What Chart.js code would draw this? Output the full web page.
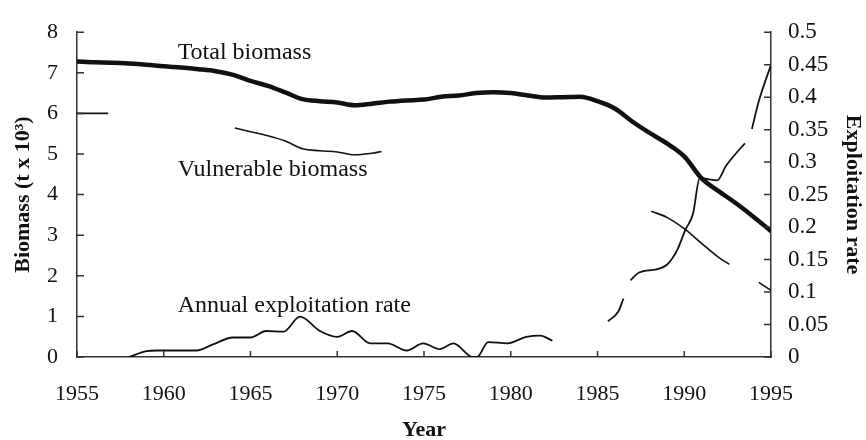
<!DOCTYPE html>
<html>
<head>
<meta charset="utf-8">
<style>
  html, body { margin: 0; padding: 0; background: #fff; }
  #wrap { width: 866px; height: 440px; }
</style>
<script src="https://cdn.jsdelivr.net/npm/chart.js@4.4.1/dist/chart.umd.min.js"></script>
</head>
<body>
<div id="wrap"><canvas id="biomassChart" width="866" height="440"></canvas></div>
<script>
// Total biomass (t x 10^3), one value per year
const years = [1955, 1956, 1957, 1958, 1959, 1960, 1961, 1962, 1963, 1964,
  1965, 1966, 1967, 1968, 1969, 1970, 1971, 1972, 1973, 1974,
  1975, 1976, 1977, 1978, 1979, 1980, 1981, 1982, 1983, 1984,
  1985, 1986, 1987, 1988, 1989, 1990, 1991, 1992, 1993, 1994, 1995];
const totalBiomass = [7.28, 7.26, 7.25, 7.23, 7.20, 7.16, 7.13, 7.09, 7.04, 6.95,
  6.80, 6.68, 6.52, 6.35, 6.30, 6.27, 6.20, 6.24, 6.29, 6.32,
  6.34, 6.41, 6.44, 6.50, 6.52, 6.50, 6.44, 6.39, 6.40, 6.41,
  6.30, 6.12, 5.80, 5.52, 5.26, 4.94, 4.40, 4.08, 3.78, 3.45, 3.10];

// Vulnerable biomass (t x 10^3), broken into pieces in the figure (null = gap)
const vulnYears = [1955, 1956, 1956.8, 1960,
  1964.1, 1965, 1966, 1967, 1968, 1969, 1970, 1971, 1972, 1972.55, 1980,
  1988.1, 1989, 1990, 1991, 1992, 1992.6, 1993.5,
  1994.3, 1995];
const vulnBiomass = [6.0, 6.0, 6.0, null,
  5.64, 5.55, 5.45, 5.32, 5.13, 5.08, 5.05, 4.98, 5.02, 5.06, null,
  3.59, 3.44, 3.16, 2.80, 2.45, 2.28, null,
  1.84, 1.64];

// Annual exploitation rate (right axis), also with gaps
const rateYears = [1958.0, 1959.0, 1959.6, 1960.2, 1961.9, 1962.8, 1964.0, 1965.0, 1965.9, 1966.9,
  1967.85, 1969.0, 1970.0, 1970.85, 1971.9, 1972.9, 1974.0, 1974.95, 1975.9, 1976.7,
  1977.8, 1978.05, 1978.7, 1979.8, 1980.9, 1981.7, 1982.4, 1984,
  1985.6, 1986.2, 1986.5, 1986.7,
  1986.9, 1987.4, 1988.4, 1989.0, 1989.6, 1990.05, 1990.5, 1990.9, 1991.3, 1991.9,
  1992.4, 1993.0, 1993.5, 1993.7,
  1993.9, 1994.3, 1995];
const exploitRate = [0, 0.009, 0.010, 0.010, 0.010, 0.019, 0.030, 0.030, 0.040, 0.039,
  0.062, 0.040, 0.031, 0.040, 0.021, 0.021, 0.010, 0.021, 0.012, 0.021,
  0.0, 0.0, 0.023, 0.021, 0.031, 0.033, 0.025, null,
  0.055, 0.070, 0.090, null,
  0.118, 0.130, 0.135, 0.142, 0.165, 0.195, 0.220, 0.276, 0.274, 0.272,
  0.294, 0.314, 0.329, null,
  0.351, 0.394, 0.45];

const labelText = ['Total biomass', 'Vulnerable biomass', 'Annual exploitation rate'];

const serif = '"Liberation Serif", "Times New Roman", serif';
const ink = '#111';

const toPoints = (xs, ys) => xs.map((x, i) => ({ x: x, y: ys[i] }));

// small tick marks pointing into the plot, like the original figure
const inwardTicks = {
  id: 'inwardTicks',
  afterDraw(chart) {
    const { ctx, scales } = chart;
    ctx.save();
    ctx.strokeStyle = '#333';
    ctx.lineWidth = 1.5;
    ctx.beginPath();
    scales.x.ticks.forEach(t => {
      const px = scales.x.getPixelForValue(t.value);
      ctx.moveTo(px, scales.x.top);
      ctx.lineTo(px, scales.x.top - 6);
    });
    scales.y.ticks.forEach(t => {
      const py = scales.y.getPixelForValue(t.value);
      ctx.moveTo(scales.y.right, py);
      ctx.lineTo(scales.y.right + 7, py);
    });
    scales.y1.ticks.forEach(t => {
      const py = scales.y1.getPixelForValue(t.value);
      ctx.moveTo(scales.y1.left, py);
      ctx.lineTo(scales.y1.left - 7, py);
    });
    ctx.stroke();
    ctx.restore();
  }
};

// series names written inside the plot
const seriesLabels = {
  id: 'seriesLabels',
  afterDatasetsDraw(chart) {
    const { ctx, scales } = chart;
    const spots = [[1960.8, 7.33], [1960.8, 4.47], [1960.8, 1.12]];
    ctx.save();
    ctx.fillStyle = ink;
    ctx.font = '24px ' + serif;
    ctx.textAlign = 'left';
    ctx.textBaseline = 'alphabetic';
    labelText.forEach((txt, i) => {
      ctx.fillText(txt, scales.x.getPixelForValue(spots[i][0]), scales.y.getPixelForValue(spots[i][1]));
    });
    ctx.restore();
  }
};

new Chart(document.getElementById('biomassChart').getContext('2d'), {
  type: 'line',
  data: {
    datasets: [
      {
        label: 'Total biomass',
        data: toPoints(years, totalBiomass),
        borderColor: ink,
        borderWidth: 4.5,
        pointRadius: 0,
        cubicInterpolationMode: 'monotone',
        yAxisID: 'y'
      },
      {
        label: 'Vulnerable biomass',
        data: toPoints(vulnYears, vulnBiomass),
        borderColor: ink,
        borderWidth: 1.6,
        pointRadius: 0,
        spanGaps: false,
        cubicInterpolationMode: 'monotone',
        yAxisID: 'y'
      },
      {
        label: 'Annual exploitation rate',
        data: toPoints(rateYears, exploitRate),
        borderColor: ink,
        borderWidth: 1.8,
        pointRadius: 0,
        spanGaps: false,
        cubicInterpolationMode: 'monotone',
        yAxisID: 'y1'
      }
    ]
  },
  options: {
    responsive: false,
    animation: false,
    layout: { padding: { top: 22, left: 0, right: 0, bottom: 0 } },
    plugins: {
      legend: { display: false },
      tooltip: { enabled: false }
    },
    scales: {
      x: {
        type: 'linear',
        min: 1955,
        max: 1995,
        afterFit: s => { s.height = 83; },
        grid: { display: false, drawTicks: false },
        border: { display: true, color: '#333', width: 1.5 },
        ticks: {
          stepSize: 5, padding: 24, color: ink, font: { family: serif, size: 22 },
          callback: v => String(v)
        },
        title: {
          display: true, text: 'Year', color: ink, padding: 0,
          font: { family: serif, size: 22, weight: 'bold', lineHeight: 0.9 }
        }
      },
      y: {
        position: 'left',
        min: 0,
        max: 8,
        afterFit: s => { s.width = 77; },
        grid: { display: false, drawTicks: false },
        border: { display: true, color: '#333', width: 1.5 },
        ticks: { stepSize: 1, padding: 19, color: ink, font: { family: serif, size: 22 } },
        title: {
          display: true, text: 'Biomass (t x 10³)', color: ink, padding: { top: 10, bottom: 0 },
          font: { family: serif, size: 22, weight: 'bold' }
        }
      },
      y1: {
        position: 'right',
        min: 0,
        max: 0.5,
        afterFit: s => { s.width = 95; },
        grid: { display: false, drawTicks: false },
        border: { display: true, color: '#333', width: 1.5 },
        ticks: {
          stepSize: 0.05, padding: 17, color: ink, font: { family: serif, size: 23 },
          callback: v => String(Number(v.toFixed(2)))
        },
        title: {
          display: true, text: 'Exploitation rate', color: ink, padding: 0,
          font: { family: serif, size: 22, weight: 'bold' }
        }
      }
    }
  },
  plugins: [inwardTicks, seriesLabels]
});
</script>
</body>
</html>
